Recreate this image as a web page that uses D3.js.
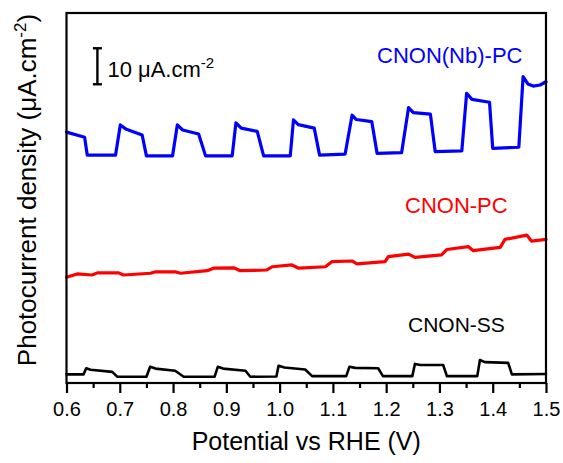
<!DOCTYPE html>
<html>
<head>
<meta charset="utf-8">
<script src="https://cdn.jsdelivr.net/npm/d3@7"></script>
<style>
html,body{margin:0;padding:0;background:#fff;}
svg{display:block;font-family:"Liberation Sans",Arial,sans-serif;}
</style>
</head>
<body>
<svg id="chart" width="563" height="463"></svg>
<script>
// ---- data ----
const majorTicks = [0.6,0.7,0.8,0.9,1.0,1.1,1.2,1.3,1.4,1.5];
const minorTicks = [0.65,0.75,0.85,0.95,1.05,1.15,1.25,1.35,1.45];

const nbPotential = [0.600,0.634,0.639,0.692,0.701,0.711,0.742,0.750,0.799,0.808,0.818,0.848,0.861,0.911,0.918,0.928,0.958,0.970,1.020,1.026,1.035,1.065,1.075,1.123,1.136,1.144,1.173,1.183,1.229,1.242,1.251,1.283,1.292,1.342,1.351,1.361,1.394,1.400,1.449,1.457,1.466,1.476,1.489,1.500];
const nbCurrent   = [69.7,68.3,63.3,63.3,71.7,70.6,68.9,63.1,63.1,71.7,70.3,69.2,63.1,63.1,72.3,70.8,69.9,63.1,63.1,73.1,71.8,70.8,63.3,63.6,74.4,73.2,72.6,63.8,64.0,76.5,75.1,74.7,64.3,64.5,80.5,78.8,78.0,65.2,65.5,85.1,83.1,82.5,82.8,83.7];

const pcPotential = [0.600,0.620,0.648,0.658,0.698,0.707,0.758,0.767,0.804,0.814,0.864,0.876,0.914,0.926,0.976,0.986,1.023,1.036,1.086,1.098,1.136,1.145,1.198,1.204,1.242,1.254,1.304,1.314,1.354,1.363,1.414,1.423,1.464,1.473,1.500];
const pcCurrent   = [29.4,30.3,30.0,30.6,30.6,30.0,30.5,30.9,30.9,30.5,31.2,31.9,32.0,31.2,31.4,32.3,32.8,31.9,32.3,33.7,33.9,33.1,33.7,35.1,35.8,34.9,35.6,37.1,37.9,36.8,37.7,39.9,41.1,39.4,39.9];

const ssPotential = [0.600,0.632,0.637,0.645,0.686,0.695,0.750,0.757,0.767,0.804,0.820,0.878,0.884,0.894,0.936,0.945,0.994,0.998,1.009,1.048,1.061,1.125,1.131,1.142,1.185,1.194,1.249,1.254,1.264,1.307,1.314,1.371,1.376,1.385,1.429,1.436,1.500];
const ssCurrent   = [2.4,2.4,4.1,3.7,3.1,1.75,1.75,4.5,4.0,3.4,1.75,1.75,4.5,4.0,3.4,1.75,1.8,4.8,4.3,3.75,1.9,1.9,4.5,4.2,4.1,1.9,1.9,5.3,5.0,5.0,1.9,1.9,6.4,5.8,5.6,2.4,2.5];

const seriesNames  = ["CNON(Nb)-PC","CNON-PC","CNON-SS"];
const seriesColors = ["#0000ff","#ff0000","#000000"];

const scaleBarPotential = 0.658;
const scaleBarTop = 93.0;
const scaleBarLength = 10;

// ---- layout ----
const svg = d3.select("#chart");
const pL = 66.5, pR = 546, pT = 13, pB = 383;
const x = d3.scaleLinear().domain([0.6,1.5]).range([pL,pR]);
const y = d3.scaleLinear().domain([0,102.8]).range([pB,pT]);
const font = '"Liberation Sans",Arial,sans-serif';

const series = [
  {name:seriesNames[0], color:seriesColors[0], pts:d3.zip(nbPotential,nbCurrent), w:3.2},
  {name:seriesNames[1], color:seriesColors[1], pts:d3.zip(pcPotential,pcCurrent), w:3.2},
  {name:seriesNames[2], color:seriesColors[2], pts:d3.zip(ssPotential,ssCurrent), w:2.6}
];

const line = d3.line().x(d=>x(d[0])).y(d=>y(d[1])).curve(d3.curveLinear);
series.forEach(s=>{
  svg.append("path").datum(s.pts)
    .attr("d",line).attr("fill","none")
    .attr("stroke",s.color).attr("stroke-width",s.w)
    .attr("stroke-linejoin","round").attr("stroke-linecap","round");
});

// frame
svg.append("rect").attr("x",pL).attr("y",pT)
  .attr("width",pR-pL).attr("height",pB-pT)
  .attr("fill","none").attr("stroke","#000").attr("stroke-width",2.2);

// x axis
const ax = svg.append("g").attr("transform",`translate(0,${pB})`)
  .call(d3.axisBottom(x).tickValues(majorTicks).tickSize(10).tickSizeOuter(0).tickPadding(9).tickFormat(d3.format(".1f")));
ax.select(".domain").remove();
ax.selectAll("line").attr("stroke","#000").attr("stroke-width",2.2);
ax.selectAll("text").attr("font-family",font).attr("font-size",20).attr("fill","#000");
const axm = svg.append("g").attr("transform",`translate(0,${pB})`)
  .call(d3.axisBottom(x).tickValues(minorTicks).tickSize(5).tickSizeOuter(0).tickFormat(""));
axm.select(".domain").remove();
axm.selectAll("line").attr("stroke","#000").attr("stroke-width",2.2);

// axis titles
svg.append("text").attr("x",(pL+pR)/2).attr("y",450)
  .attr("text-anchor","middle").attr("font-size",25).attr("font-family",font)
  .text("Potential vs RHE (V)");

const yt = svg.append("text")
  .attr("transform","translate(36,190) rotate(-90)")
  .attr("text-anchor","middle").attr("font-size",26).attr("font-family",font);
yt.append("tspan").text("Photocurrent density (\u03bcA.cm");
yt.append("tspan").attr("font-size",17).attr("dy",-10).text("-2");
yt.append("tspan").attr("dy",10).text(")");

// scale bar
const sbx = x(scaleBarPotential);
const sbTop = y(scaleBarTop), sbBot = y(scaleBarTop-scaleBarLength);
const sb = svg.append("g").attr("stroke","#000").attr("stroke-width",2.4);
sb.append("line").attr("x1",sbx).attr("x2",sbx).attr("y1",sbTop).attr("y2",sbBot);
sb.append("line").attr("x1",sbx-4.5).attr("x2",sbx+4.5).attr("y1",sbTop).attr("y2",sbTop);
sb.append("line").attr("x1",sbx-4.5).attr("x2",sbx+4.5).attr("y1",sbBot).attr("y2",sbBot);
const sbt = svg.append("text").attr("x",sbx+10).attr("y",77)
  .attr("font-size",22).attr("font-family",font);
sbt.append("tspan").text("10 \u03bcA.cm");
sbt.append("tspan").attr("font-size",15).attr("dy",-9).text("-2");

// series labels
const labelPos = [[377,63.3,22],[405,213.3,22],[408,331.7,21]];
series.forEach((s,i)=>{
  svg.append("text").attr("x",labelPos[i][0]).attr("y",labelPos[i][1])
    .attr("font-size",labelPos[i][2]).attr("font-family",font)
    .attr("fill",s.color).text(s.name);
});
</script>
</body>
</html>
